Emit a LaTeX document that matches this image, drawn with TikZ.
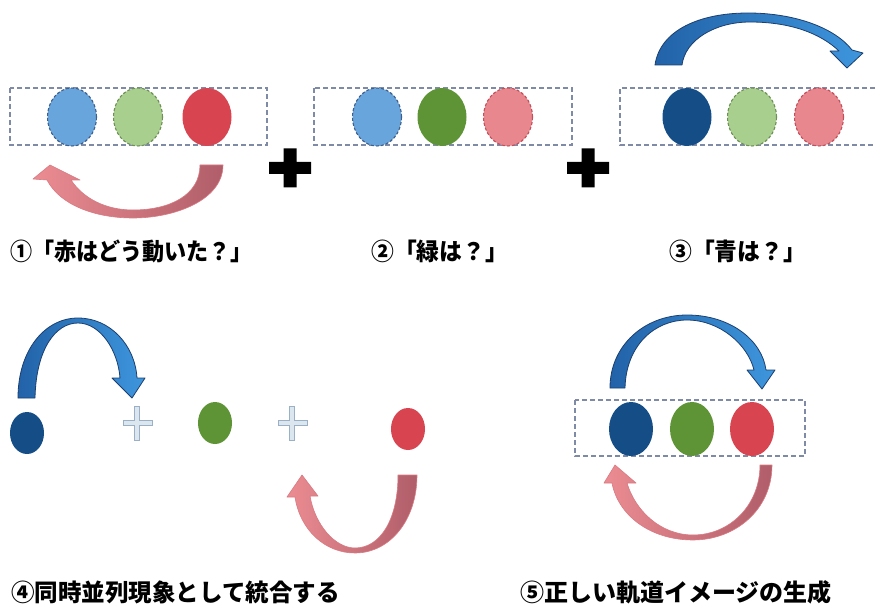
\documentclass[tikz,border=0pt]{standalone}
\usepackage{fontspec}
\newfontfamily\jp{Noto Sans CJK JP}
\usetikzlibrary{shapes.geometric}
\definecolor{lblue}{HTML}{68A5DC}
\definecolor{lblueD}{HTML}{3F5F8A}
\definecolor{lgreen}{HTML}{A9CF8F}
\definecolor{lgreenD}{HTML}{6E8F55}
\definecolor{lpink}{HTML}{E8878E}
\definecolor{lpinkD}{HTML}{C2505B}
\definecolor{sred}{HTML}{D8444F}
\definecolor{sgreen}{HTML}{5F9436}
\definecolor{dblue}{HTML}{154D86}
\definecolor{boxc}{HTML}{7F8BA6}
\definecolor{arrB1}{HTML}{2262A8}
\definecolor{arrB2}{HTML}{3E96DD}
\definecolor{arrBD}{HTML}{1C3F6E}
\definecolor{arrR1}{HTML}{EC8C92}
\definecolor{arrR2}{HTML}{B05E6A}
\definecolor{arrRD}{HTML}{D87A82}
\definecolor{plusF}{HTML}{DCE6EF}
\definecolor{plusD}{HTML}{9AB0C6}
\begin{document}
\begin{tikzpicture}[x=1pt,y=-1pt,
  ov/.style={ellipse, inner sep=0pt, minimum width=49pt, minimum height=58pt},
  ovm/.style={ellipse, inner sep=0pt, minimum width=44pt, minimum height=54pt},
  ovs/.style={ellipse, inner sep=0pt, minimum width=34pt, minimum height=42pt},
  dl/.style={draw, dashed, dash pattern=on 3pt off 2pt, line width=1.1pt},
  cLB/.style={fill=lblue, draw=lblueD, dl},
  cLG/.style={fill=lgreen, draw=lgreenD, dl},
  cLP/.style={fill=lpink, draw=lpinkD, dl},
  cR/.style={fill=sred},
  cG/.style={fill=sgreen},
  cB/.style={fill=dblue},
  dbox/.style={draw=boxc, line width=1.4pt, dash pattern=on 5pt off 3pt},
  barrow/.style={left color=arrB1, right color=arrB2, draw=arrBD, line width=0.8pt, line join=round},
  rarrow/.style={left color=arrR1, right color=arrR2, draw=arrRD, line width=0.6pt, line join=round},
  lab/.style={anchor=west, inner sep=0pt, font=\jp\bfseries\fontsize{24}{24}\selectfont},
  bplus/.style={fill=black},
  lplus/.style={fill=plusF, draw=plusD, line width=0.8pt}
]
\useasboundingbox (0,0) rectangle (876,607);
\fill[white] (0,0) rectangle (876,607);

% ---------- panel 1 ----------
\draw[dbox] (10,88) rectangle (267,145);
\node[ov, cLB] (p1b) at (72,117) {};
\node[ov, cLG] (p1g) at (138,117) {};
\node[ov, cR]  (p1r) at (207,117) {};
\path[rarrow] (223,165) .. controls (223,200) and (175,218) .. (133,218)
  .. controls (95,218) and (60,205) .. (47,180) -- (33,179) -- (50,165) -- (80,180) -- (71,180)
  .. controls (83,198) and (105,210) .. (133,210)
  .. controls (170,210) and (200,195) .. (200,165) -- cycle;
\node[lab] (l1) at (10,251) {\scalebox{0.92}[1]{①「赤はどう動いた？」}};

% black plus signs
\path[bplus] (269,162) -- (283.5,162) -- (283.5,148.5) -- (296.5,148.5) -- (296.5,162) -- (311,162)
  -- (311,174) -- (296.5,174) -- (296.5,187.5) -- (283.5,187.5) -- (283.5,174) -- (269,174) -- cycle;
\path[bplus] (567,162) -- (581.5,162) -- (581.5,148.5) -- (594.5,148.5) -- (594.5,162) -- (609,162)
  -- (609,174) -- (594.5,174) -- (594.5,187.5) -- (581.5,187.5) -- (581.5,174) -- (567,174) -- cycle;

% ---------- panel 2 ----------
\draw[dbox] (314,88) rectangle (572,145);
\node[ov, cLB] (p2b) at (377,117) {};
\node[ov, cG]  (p2g) at (442,117) {};
\node[ov, cLP] (p2r) at (508,117) {};
\node[lab] (l2) at (371,251) {\scalebox{0.95}[1]{②「緑は？」}};

% ---------- panel 3 ----------
\draw[dbox] (875,88) -- (620,88) -- (620,145) -- (875,145);
\node[ov, cB]  (p3b) at (687,117) {};
\node[ov, cLG] (p3g) at (752,117) {};
\node[ov, cLP] (p3r) at (819,117) {};
\path[barrow] (655,65) .. controls (660,30) and (700,13) .. (748,13)
  .. controls (795,13) and (835,28) .. (852,50) -- (863,53) -- (847,68) -- (830,51) -- (839,51)
  .. controls (820,33) and (790,22) .. (750,22)
  .. controls (715,22) and (685,40) .. (682,65) -- cycle;
\node[lab] (l3) at (669,251) {\scalebox{0.95}[1]{③「青は？」}};

% ---------- panel 4 ----------
\node[ovs, cB] (p4b) at (27,433) {};
\node[ovs, cG] (p4g) at (215,423) {};
\node[ovs, cR] (p4r) at (408,429) {};
\path[lplus] (123,420.5) -- (134.5,420.5) -- (134.5,406) -- (139.5,406) -- (139.5,420.5) -- (152,420.5)
  -- (152,425.5) -- (139.5,425.5) -- (139.5,440) -- (134.5,440) -- (134.5,425.5) -- (123,425.5) -- cycle;
\path[lplus] (278,420.5) -- (289.5,420.5) -- (289.5,406) -- (294.5,406) -- (294.5,420.5) -- (307,420.5)
  -- (307,425.5) -- (294.5,425.5) -- (294.5,440) -- (289.5,440) -- (289.5,425.5) -- (278,425.5) -- cycle;
\path[barrow] (18,398) .. controls (18,350) and (45,318) .. (78,318)
  .. controls (110,318) and (135,345) .. (137,378) -- (145,378) -- (132,398) -- (112,378) -- (120,378)
  .. controls (118,350) and (100,323) .. (78,323)
  .. controls (55,323) and (36,350) .. (35,398) -- cycle;
\path[rarrow] (417,475) .. controls (417,520) and (390,553) .. (355,553)
  .. controls (325,553) and (300,530) .. (295,497) -- (287,497) -- (302,475) -- (318,496) -- (310,496)
  .. controls (315,525) and (335,548) .. (355,548)
  .. controls (380,548) and (398,520) .. (398,475) -- cycle;
\node[lab] (l4) at (11,592) {\scalebox{0.98}[1]{④同時並列現象として統合する}};

% ---------- panel 5 ----------
\draw[dbox] (575,400) rectangle (805,456);
\node[ovm, cB] (p5b) at (631,429) {};
\node[ovm, cG] (p5g) at (692,429) {};
\node[ovm, cR] (p5r) at (752,429) {};
\path[barrow] (610,388) .. controls (610,345) and (645,315) .. (687,315)
  .. controls (730,315) and (762,340) .. (766,370) -- (775,370) -- (762,389) -- (747,370) -- (754,370)
  .. controls (748,345) and (720,320) .. (687,320)
  .. controls (655,320) and (626,345) .. (625,388) -- cycle;
\path[rarrow] (772,465) .. controls (772,510) and (735,540) .. (693,540)
  .. controls (650,540) and (618,515) .. (612,483) -- (604,483) -- (615,465) -- (636,483) -- (627,483)
  .. controls (635,510) and (660,535) .. (693,535)
  .. controls (730,535) and (760,505) .. (760,465) -- cycle;
\node[lab] (l5) at (520,592) {⑤正しい軌道イメージの生成};
\end{tikzpicture}
\end{document}
